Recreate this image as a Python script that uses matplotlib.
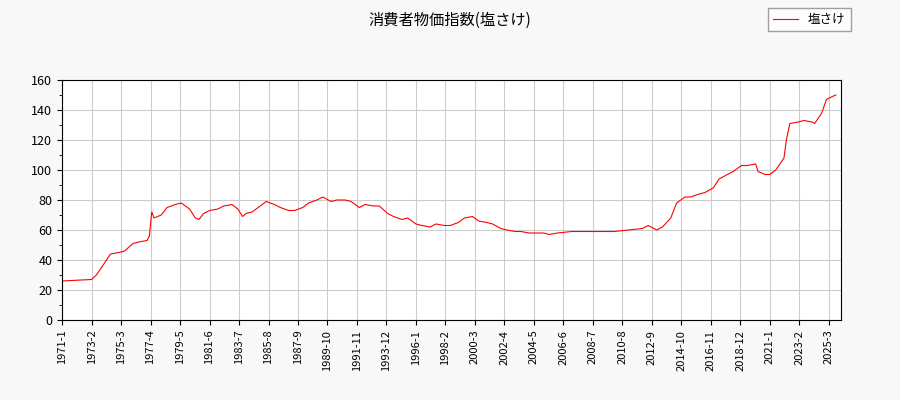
import matplotlib
matplotlib.use("Agg")
import matplotlib.pyplot as plt
import numpy as np

plt.rcParams['font.family'] = ['Noto Sans CJK JP', 'DejaVu Sans']

dates = ["1971-1","1972-1","1973-2","1973-6","1974-1","1974-6","1975-1","1975-6","1976-1","1976-6",
"1977-1","1977-3","1977-5","1977-7","1978-1","1978-6","1979-1","1979-6","1980-1","1980-6","1980-9",
"1981-1","1981-6","1982-1","1982-6","1983-1","1983-6","1983-10","1984-1","1984-6","1985-1","1985-6",
"1986-1","1986-6","1987-1","1987-6","1988-1","1988-6","1989-1","1989-6","1990-1","1990-6","1991-1",
"1991-6","1992-1","1992-6","1993-1","1993-6","1994-1","1994-6","1995-1","1995-6","1996-1","1996-6",
"1997-1","1997-6","1998-1","1998-6","1999-1","1999-6","2000-1","2000-6","2001-1","2001-6","2002-1",
"2002-6","2003-1","2003-6","2004-1","2004-6","2005-1","2005-6","2006-1","2007-1","2008-1","2009-1",
"2010-1","2011-1","2012-1","2012-6","2013-1","2013-6","2014-1","2014-6","2015-1","2015-6","2016-1",
"2016-6","2017-1","2017-6","2018-1","2018-6","2019-1","2019-6","2020-1","2020-3","2020-9","2021-1",
"2021-6","2022-1","2022-3","2022-6","2023-1","2023-6","2024-1","2024-3","2024-9","2025-1","2025-6","2025-9"]
values = [26,26.5,27,30,38,44,45,46,51,52,53,56,72,68,70,75,77,78,74,68,67,71,73,74,76,77,74,69,71,72,
76,79,77,75,73,73,75,78,80,82,79,80,80,79,75,77,76,76,71,69,67,68,64,63,62,64,63,63,65,68,69,66,65,64,
61,60,59,59,58,58,58,57,58,59,59,59,59,60,61,63,60,62,68,78,82,82,84,85,88,94,97,99,103,103,104,99,97,
97,100,108,120,131,132,133,132,131,138,147,149,150]
tick_labels = ["1971-1","1973-2","1975-3","1977-4","1979-5","1981-6","1983-7","1985-8","1987-9","1989-10",
"1991-11","1993-12","1996-1","1998-2","2000-3","2002-4","2004-5","2006-6","2008-7","2010-8","2012-9",
"2014-10","2016-11","2018-12","2021-1","2023-2","2025-3"]

def idx(s):
    y, m = s.split("-")
    return (int(y) - 1971) * 12 + int(m) - 1

x = [idx(d) for d in dates]
fig = plt.figure(figsize=(9, 4), dpi=100, facecolor="#f8f8f8")
ax = fig.add_axes([0.069, 0.2, 0.865, 0.6])
ax.plot(x, values, color="red", lw=0.8, label="塩さけ")
ax.set_xlim(0, 660)
ax.set_ylim(0, 160)
ax.set_yticks(np.arange(0, 161, 20))
ax.set_yticks(np.arange(0, 161, 10), minor=True)
ax.set_xticks([idx(t) for t in tick_labels])
ax.set_xticklabels(tick_labels, rotation=90, fontsize=8)
ax.tick_params(axis='y', labelsize=9)
ax.grid(True, color="#cccccc", lw=0.8)
fig.suptitle("消費者物価指数(塩さけ)", y=0.97, fontsize=11)
fig.legend(loc="upper right", bbox_to_anchor=(0.952, 0.995), fontsize=9, fancybox=False, edgecolor="#888888")
fig.savefig("out.png", facecolor=fig.get_facecolor())
